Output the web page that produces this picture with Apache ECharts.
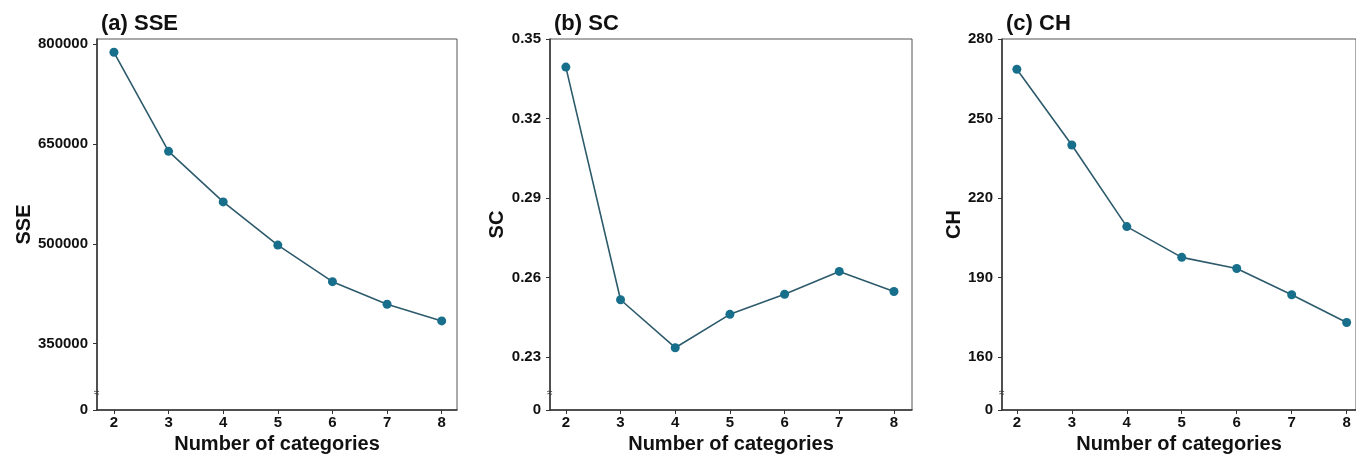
<!DOCTYPE html>
<html>
<head>
<meta charset="utf-8">
<script src="https://cdn.jsdelivr.net/npm/echarts@6/dist/echarts.min.js"></script>
<style>
  html, body { margin: 0; padding: 0; background: #fff; }
  #main { width: 1356px; height: 455px; }
</style>
</head>
<body>
<div id="main"></div>
<script>
const categories = [2, 3, 4, 5, 6, 7, 8]
const sseValues = [788000, 639000, 563000, 498000, 443000, 409000, 384000]
const scValues = [0.3394, 0.2516, 0.2335, 0.2461, 0.2537, 0.2623, 0.2547]
const chValues = [268.6, 240.0, 209.2, 197.6, 193.4, 183.5, 173.0]

const sseTicks = [250000, 350000, 500000, 650000, 800000]
const scTicks = [0.21, 0.23, 0.26, 0.29, 0.32, 0.35]
const chTicks = [140, 160, 190, 220, 250, 280]

const font = '"Liberation Sans", Arial, sans-serif'
const lineColor = '#2d5b6c'
const dotColor = '#186f8c'

// 三个子图的位置
const panels = [
  { left: 97, width: 360, title: '(a) SSE', name: 'SSE', gap: 61, xmin: 1.69, xmax: 8.28,
    ymin: 250000, ymax: 808000, ticks: sseTicks, data: sseValues },
  { left: 550, width: 362, title: '(b) SC', name: 'SC', gap: 42, xmin: 1.71, xmax: 8.33,
    ymin: 0.21, ymax: 0.35, ticks: scTicks, data: scValues },
  { left: 1002, width: 354, title: '(c) CH', name: 'CH', gap: 38, xmin: 1.73, xmax: 8.17,
    ymin: 140, ymax: 280, ticks: chTicks, data: chValues },
]

const chart = echarts.init(document.getElementById('main'), null, { width: 1356, height: 455 })

chart.setOption({
  animation: false,
  title: panels.map(p => ({
    text: p.title,
    left: p.left - 1,
    top: 8,
    textStyle: { fontFamily: font, fontSize: 22, fontWeight: 'bold', color: '#111' }
  })),
  grid: panels.map(p => ({
    left: p.left,
    width: p.width,
    top: 39,
    height: 371,
    outerBoundsMode: 'none',
    containLabel: false,
    show: true,
    borderColor: '#555',
    borderWidth: 1,
    backgroundColor: 'transparent'
  })),
  xAxis: panels.map((p, i) => ({
    type: 'value',
    gridIndex: i,
    min: p.xmin,
    max: p.xmax,
    name: 'Number of categories',
    nameLocation: 'middle',
    nameGap: 23,
    nameTextStyle: { fontFamily: font, fontSize: 20, fontWeight: 'bold', color: '#111' },
    axisLine: { lineStyle: { color: '#333', width: 1.5 } },
    axisTick: { show: true, length: 4, customValues: categories, lineStyle: { color: '#333' } },
    axisLabel: {
      customValues: categories,
      margin: 5,
      fontFamily: font, fontSize: 15, fontWeight: 'bold', color: '#111'
    },
    splitLine: { show: false }
  })),
  yAxis: panels.map((p, i) => ({
    type: 'value',
    gridIndex: i,
    min: p.ymin,
    max: p.ymax,
    name: p.name,
    nameLocation: 'middle',
    nameGap: p.gap,
    nameTextStyle: { fontFamily: font, fontSize: 20, fontWeight: 'bold', color: '#111' },
    axisLine: { show: true, lineStyle: { color: '#333', width: 1.5 } },
    axisTick: { show: true, length: 4, customValues: p.ticks, lineStyle: { color: '#333' } },
    axisLabel: {
      customValues: p.ticks,
      margin: 9,
      fontFamily: font, fontSize: 15, fontWeight: 'bold', color: '#111',
      formatter: v => (v === p.ymin ? '0' : String(v))
    },
    splitLine: { show: false }
  })),
  series: panels.map((p, i) => ({
    type: 'line',
    xAxisIndex: i,
    yAxisIndex: i,
    data: categories.map((c, k) => [c, p.data[k]]),
    symbol: 'circle',
    symbolSize: 9,
    lineStyle: { color: lineColor, width: 1.6 },
    itemStyle: { color: dotColor }
  })),
  // 断轴符号
  graphic: panels.map(p => ({
    type: 'text',
    left: p.left - 3,
    top: 388,
    style: { text: '≈', fontSize: 10, fill: '#333', fontFamily: font }
  }))
})
</script>
</body>
</html>
